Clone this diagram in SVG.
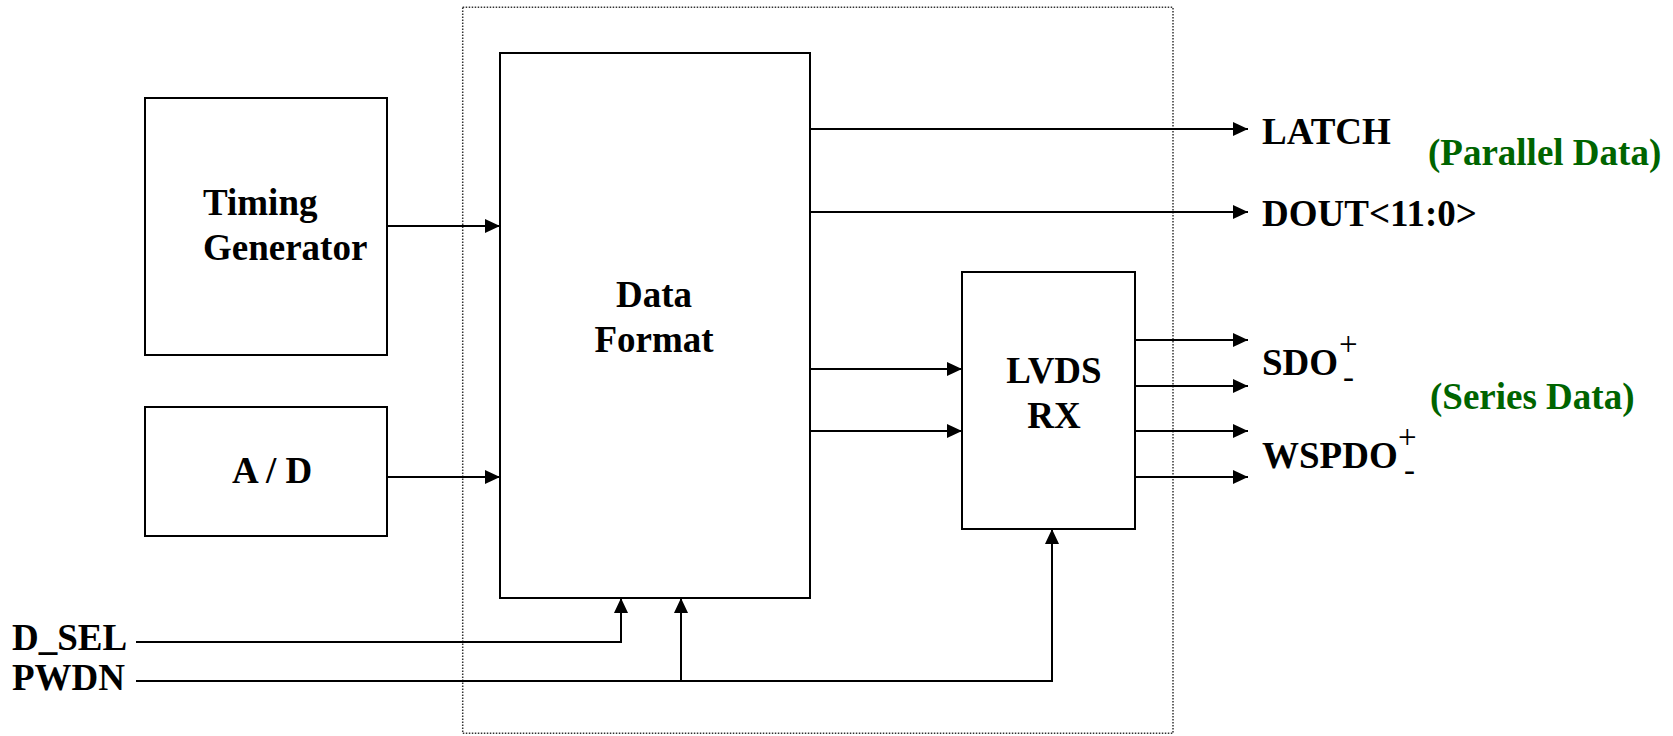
<svg xmlns="http://www.w3.org/2000/svg" width="1673" height="736" viewBox="0 0 1673 736">
<style>
.box{fill:#fff;stroke:#000;stroke-width:2}
.frame{fill:none;stroke:#333;stroke-width:1.5;stroke-dasharray:1.5 1.5}
.t{font-family:"Liberation Serif","Times New Roman",serif;font-weight:bold;font-size:37px;fill:#000}
.g{font-family:"Liberation Serif","Times New Roman",serif;font-weight:bold;font-size:37px;fill:#006400}
.s{font-family:"Liberation Serif","Times New Roman",serif;font-size:33px;fill:#000}
.c{fill:none;stroke:#000;stroke-width:2}
</style>
<defs>
<marker id="ah" markerUnits="userSpaceOnUse" markerWidth="15" markerHeight="14" refX="15" refY="7" orient="auto">
<path d="M0,0 L15,7 L0,14 z" fill="#000"/>
</marker>
</defs>
<rect width="1673" height="736" fill="#fff"/>
<rect id="boundary" class="frame" x="462.7" y="7.3" width="710.3" height="726"/>
<g id="timing-generator">
<rect class="box" x="145" y="98" width="242" height="257"/>
<text class="t" x="203" y="215">Timing</text>
<text class="t" x="203" y="260">Generator</text>
</g>
<g id="ad">
<rect class="box" x="145" y="407" width="242" height="129"/>
<text class="t" x="232" y="483">A / D</text>
</g>
<g id="data-format">
<rect class="box" x="500" y="53" width="310" height="545"/>
<text class="t" x="654" y="307" text-anchor="middle">Data</text>
<text class="t" x="654" y="352" text-anchor="middle">Format</text>
</g>
<g id="lvds-rx">
<rect class="box" x="962" y="272" width="173" height="257"/>
<text class="t" x="1054" y="383" text-anchor="middle">LVDS</text>
<text class="t" x="1054" y="428" text-anchor="middle">RX</text>
</g>
<g id="labels">
<text class="t" x="1262" y="144">LATCH</text>
<text class="g" x="1428" y="165">(Parallel Data)</text>
<text class="t" x="1262" y="226">DOUT&lt;11:0&gt;</text>
<text class="t" x="1262" y="375">SDO</text>
<text class="s" x="1339" y="355">+</text>
<text class="s" x="1343" y="388">-</text>
<text class="g" x="1430" y="409">(Series Data)</text>
<text class="t" x="1262" y="468">WSPDO</text>
<text class="s" x="1398" y="448">+</text>
<text class="s" x="1404" y="481">-</text>
<text class="t" x="12" y="650">D_SEL</text>
<text class="t" x="12" y="690">PWDN</text>
</g>
<g id="connectors">
<path class="c" d="M387,226 H500" marker-end="url(#ah)"/>
<path class="c" d="M387,477 H500" marker-end="url(#ah)"/>
<path class="c" d="M810,129 H1248" marker-end="url(#ah)"/>
<path class="c" d="M810,212 H1248" marker-end="url(#ah)"/>
<path class="c" d="M810,369 H962" marker-end="url(#ah)"/>
<path class="c" d="M810,431 H962" marker-end="url(#ah)"/>
<path class="c" d="M1135,340 H1248" marker-end="url(#ah)"/>
<path class="c" d="M1135,386 H1248" marker-end="url(#ah)"/>
<path class="c" d="M1135,431 H1248" marker-end="url(#ah)"/>
<path class="c" d="M1135,477 H1248" marker-end="url(#ah)"/>
<path class="c" d="M136,642 H621 V598" marker-end="url(#ah)"/>
<path class="c" d="M136,681 H1052 V529" marker-end="url(#ah)"/>
<path class="c" d="M681,681 V598" marker-end="url(#ah)"/>
</g>
</svg>
